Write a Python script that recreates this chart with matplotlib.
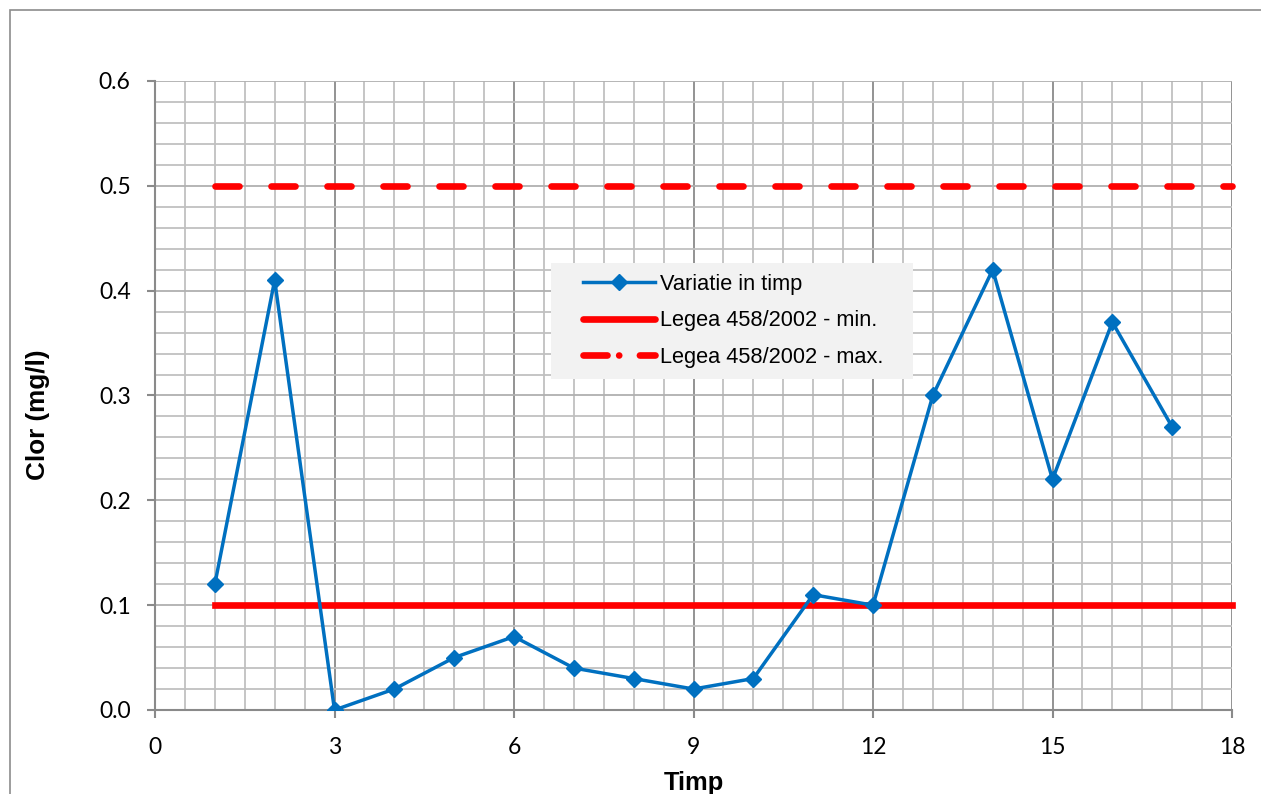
import matplotlib
matplotlib.use("Agg")
import matplotlib.pyplot as plt
from matplotlib.ticker import MultipleLocator
from matplotlib.patches import Rectangle
from matplotlib.lines import Line2D

# Measured chlorine values over time
timp = [1, 2, 3, 4, 5, 6, 7, 8, 9, 10, 11, 12, 13, 14, 15, 16, 17]
clor = [0.12, 0.41, 0.00, 0.02, 0.05, 0.07, 0.04, 0.03, 0.02, 0.03,
        0.11, 0.10, 0.30, 0.42, 0.22, 0.37, 0.27]

# Legal limits (Legea 458/2002)
limita_x = [1, 18]
limita_min = [0.1, 0.1]
limita_max = [0.5, 0.5]

x_ticks = [0, 3, 6, 9, 12, 15, 18]
y_ticks = [0.0, 0.1, 0.2, 0.3, 0.4, 0.5, 0.6]

serie_label = "Variatie in timp"
min_label = "Legea 458/2002 - min."
max_label = "Legea 458/2002 - max."

tick_font = "Lato"
text_font = "Liberation Sans"
W, H = 1261, 794

BLUE = "#0070C0"
RED = "#FF0000"
LIMIT_LW = 4.8
SERIE_LW = 2.5
MARKER_SIZE = 8.3

fig = plt.figure(figsize=(W / 100, H / 100), dpi=100)
ax = fig.add_axes([155 / W, 1 - 710 / H, (1232 - 155) / W, (710 - 81) / H])

# Outer chart border
fig.patches.append(Rectangle((10 / W, -0.05), 1.2, 1 - 10 / H + 0.05,
                             transform=fig.transFigure, fill=False,
                             edgecolor="#8c8c8c", linewidth=1.2, zorder=0))

ax.plot(timp, clor, color=BLUE, linewidth=SERIE_LW, marker="D",
        markersize=MARKER_SIZE, zorder=5)
ax.plot(limita_x, limita_min, color=RED, linewidth=LIMIT_LW,
        solid_capstyle="projecting", zorder=4, clip_on=False)
ax.plot(limita_x, limita_max, color=RED, linewidth=LIMIT_LW,
        dashes=(3.6, 4.8), dash_capstyle="round", zorder=4, clip_on=False)

ax.set_xlim(0, 18)
ax.set_ylim(0, 0.6)
ax.set_xticks(x_ticks)
ax.set_yticks(y_ticks)
ax.set_yticklabels([f"{v:.1f}" for v in y_ticks])
ax.xaxis.set_minor_locator(MultipleLocator(0.5))
ax.yaxis.set_minor_locator(MultipleLocator(0.02))

ax.grid(which="minor", color="#c0c0c0", linewidth=1.3)
ax.grid(which="major", axis="y", color="#b0b0b0", linewidth=1.3)
ax.grid(which="major", axis="x", color="#8a8a8a", linewidth=1.3)
ax.set_axisbelow(True)

for side in ("top", "right"):
    ax.spines[side].set_visible(False)
for side in ("left", "bottom"):
    ax.spines[side].set_color("#8a8a8a")
    ax.spines[side].set_linewidth(1.5)

ax.tick_params(which="major", length=5.5, width=1.5, color="#8a8a8a",
               labelsize=16.5)
ax.tick_params(axis="x", which="major", pad=14)
ax.tick_params(axis="y", which="major", pad=12)
ax.tick_params(which="minor", length=0)
for lab in ax.get_xticklabels() + ax.get_yticklabels():
    lab.set_fontfamily(tick_font)

# Axis titles
fig.text(693.5 / W, 1 - 790 / H, "Timp", fontsize=18.4, fontweight="bold",
         family=text_font, ha="center", va="baseline")
fig.text(38 / W, 1 - 415 / H, "Clor (mg/l)", fontsize=18.8, fontweight="bold",
         family=text_font, ha="center", va="center", rotation=90)

# Legend box and entries
ax.add_patch(Rectangle((551 / W, 1 - 379 / H), (913 - 551) / W, (379 - 263) / H,
                       transform=fig.transFigure, facecolor="#F2F2F2",
                       edgecolor="none", zorder=6))
handles = [
    Line2D([], [], color=BLUE, linewidth=SERIE_LW, marker="D", markersize=MARKER_SIZE),
    Line2D([], [], color=RED, linewidth=LIMIT_LW, solid_capstyle="round"),
    Line2D([], [], color=RED, linewidth=LIMIT_LW, dash_capstyle="round",
           dashes=(3.6, 1.75, 0.01, 3.1)),
]
leg = ax.legend(handles, [serie_label, min_label, max_label],
                loc="upper left", bbox_to_anchor=(583 / W, 1 - 274 / H),
                bbox_transform=fig.transFigure,
                prop={"family": text_font, "size": 15.7}, frameon=False,
                handlelength=3.3, handletextpad=0.23, borderpad=0,
                labelspacing=0.71, borderaxespad=0, markerscale=1.0)
leg.set_zorder(7)

fig.savefig("out.png", dpi=100)
